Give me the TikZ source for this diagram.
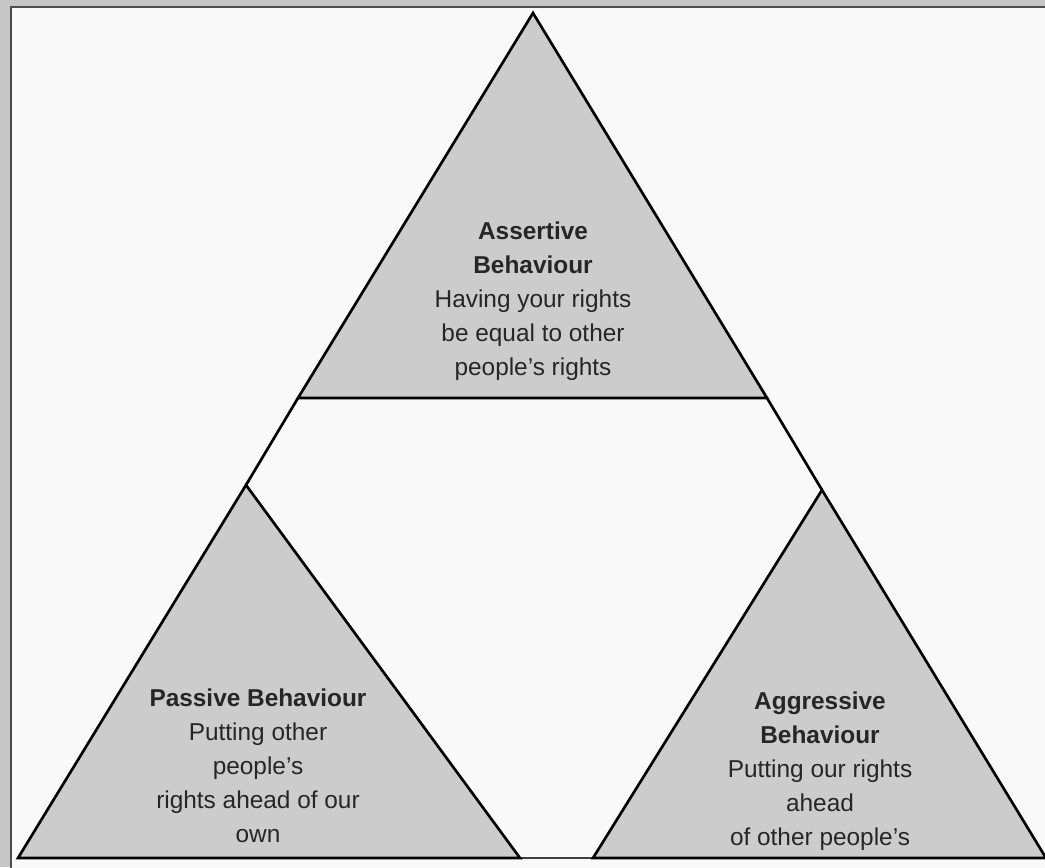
\documentclass[tikz,border=0pt]{standalone}
\usepackage{fontspec}
\setmainfont{Liberation Sans}
\usetikzlibrary{positioning}
\definecolor{trifill}{HTML}{CCCCCC}
\definecolor{paper}{HTML}{F9F9F9}
\definecolor{shadow}{HTML}{C6C6C6}
\definecolor{inktext}{HTML}{262626}

\begin{document}
\begin{tikzpicture}[
  x=0.75pt, y=-0.75pt,
  tri/.style={fill=trifill, draw=black, line width=2pt, line join=miter},
  edge/.style={draw=black, line width=2pt},
  txt/.style={align=center, inner sep=0pt, text=inktext,
              font=\fontsize{18.3}{25.5}\selectfont}
]
\useasboundingbox (0,0) rectangle (1045,867);
% page and frame
\fill[shadow] (0,0) rectangle (1045,867);
\filldraw[fill=paper, draw=black!70, line width=1.8pt] (11,7) rectangle (1070,890);

% corners of the three triangles
\coordinate (topA) at (533,13);
\coordinate (topB) at (298,398);
\coordinate (topC) at (767,398);
\coordinate (lftA) at (246,485);
\coordinate (lftB) at (18,858);
\coordinate (lftC) at (520,858);
\coordinate (rgtA) at (822,490);
\coordinate (rgtB) at (593,858);
\coordinate (rgtC) at (1046,858);

% outline of the big triangle between the parts
\draw[edge] (topB) -- (lftA);
\draw[edge] (topC) -- (rgtA);
\draw[edge, draw=black!75] (lftC) -- (rgtB);

\draw[tri] (topA) -- (topB) -- (topC) -- cycle;
\draw[tri] (lftA) -- (lftB) -- (lftC) -- cycle;
\draw[tri] (rgtA) -- (rgtB) -- (rgtC) -- cycle;

\node[txt] (assertive) at (533,301)
  {\textbf{Assertive}\\\textbf{Behaviour}\\Having your rights\\be equal to other\\people’s rights};
\node[txt] (passive) at (258,766)
  {\textbf{Passive Behaviour}\\Putting other\\people’s\\rights ahead of our\\own};
\node[txt] (aggressive) at (820,771)
  {\textbf{Aggressive}\\\textbf{Behaviour}\\Putting our rights\\ahead\\of other people’s};
\end{tikzpicture}
\end{document}
